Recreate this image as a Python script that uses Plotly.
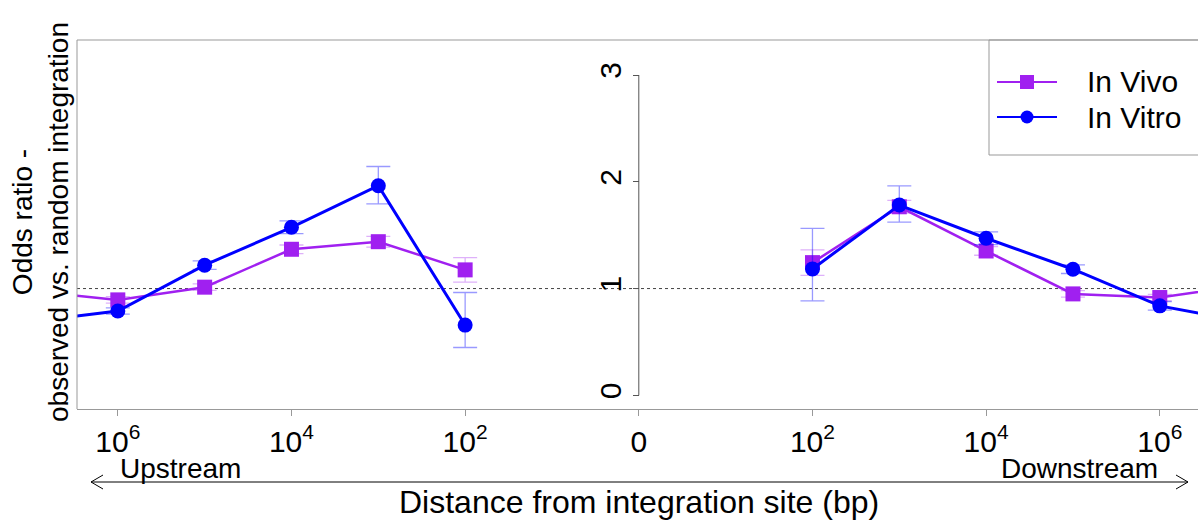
import numpy as np
import plotly.graph_objects as go

# ---------------- data ----------------
upstream_bp = [1e7, 1e6, 1e5, 1e4, 1e3, 1e2]
downstream_bp = [1e2, 1e3, 1e4, 1e5, 1e6, 1e7]

vivo_up = [0.975, 0.894, 1.013, 1.368, 1.439, 1.175]
vivo_up_plus = [0.0, 0.03, 0.03, 0.04, 0.05, 0.115]
vivo_up_minus = [0.0, 0.03, 0.03, 0.04, 0.05, 0.115]

vitro_up = [0.692, 0.790, 1.219, 1.574, 1.963, 0.658]
vitro_up_plus = [0.0, 0.03, 0.04, 0.06, 0.18, 0.305]
vitro_up_minus = [0.0, 0.03, 0.04, 0.06, 0.17, 0.21]

vivo_down = [1.243, 1.766, 1.352, 0.950, 0.916, 1.035]
vivo_down_plus = [0.12, 0.06, 0.04, 0.03, 0.03, 0.0]
vivo_down_minus = [0.12, 0.06, 0.04, 0.03, 0.03, 0.0]

vitro_down = [1.184, 1.782, 1.471, 1.181, 0.838, 0.687]
vitro_down_plus = [0.38, 0.18, 0.06, 0.04, 0.04, 0.0]
vitro_down_minus = [0.30, 0.16, 0.06, 0.04, 0.04, 0.0]

series_names = ["In Vivo", "In Vitro"]
x_tick_positions = [-6, -4, -2, 0, 2, 4, 6]
x_tick_labels = ["10<sup>6</sup>", "10<sup>4</sup>", "10<sup>2</sup>", "0",
                 "10<sup>2</sup>", "10<sup>4</sup>", "10<sup>6</sup>"]
y_ticks = [0, 1, 2, 3]

# ---------------- layout geometry ----------------
W, H = 1198, 520
L, R, T, B = 77, 1198, 40, 409   # plot area in px
XR = [-6.47, 6.44]
YR = [-0.128, 3.328]


def px(xp):
    return (xp - L) / (R - L)


def py(yp):
    return (B - yp) / (B - T)


up_x = -np.log10(upstream_bp)
down_x = np.log10(downstream_bp)

PURPLE = "#A020F0"
BLUE = "#0000FF"
PURPLE_ERR = "rgba(160,32,240,0.35)"
BLUE_ERR = "rgba(0,0,255,0.4)"
FONT = "Liberation Sans, Arial, sans-serif"

fig = go.Figure()


def add_series(x, y, plus, minus, name, color, ecolor, symbol, lw):
    fig.add_trace(go.Scatter(
        x=x, y=y, mode="lines+markers", name=name, legendgroup=name,
        showlegend=False,
        line=dict(color=color, width=lw),
        marker=dict(symbol=symbol, size=15, color=color),
        error_y=dict(type="data", array=plus, arrayminus=minus, symmetric=False,
                     color=ecolor, thickness=1.3, width=12),
    ))


add_series(up_x, vivo_up, vivo_up_plus, vivo_up_minus, series_names[0], PURPLE, PURPLE_ERR, "square", 2.5)
add_series(down_x, vivo_down, vivo_down_plus, vivo_down_minus, series_names[0], PURPLE, PURPLE_ERR, "square", 2.5)
add_series(up_x, vitro_up, vitro_up_plus, vitro_up_minus, series_names[1], BLUE, BLUE_ERR, "circle", 3)
add_series(down_x, vitro_down, vitro_down_plus, vitro_down_minus, series_names[1], BLUE, BLUE_ERR, "circle", 3)

# legend key markers (drawn on an overlay axis in plot-area fractions)
leg_rows = [py(82), py(117)]
for name, color, symbol, size, yy in [(series_names[0], PURPLE, "square", 14, leg_rows[0]),
                                      (series_names[1], BLUE, "circle", 13, leg_rows[1])]:
    fig.add_trace(go.Scatter(
        x=[px(1027)], y=[yy], mode="markers", name=name, showlegend=False,
        marker=dict(symbol=symbol, size=size, color=color),
        xaxis="x2", yaxis="y2", hoverinfo="skip",
    ))

shapes = [
    # dotted reference line at odds ratio 1
    dict(type="line", xref="paper", yref="y", x0=0, x1=1, y0=1, y1=1,
         line=dict(color="#444444", width=1, dash="dot"), layer="below"),
    # central y axis line (0..3)
    dict(type="line", xref="x", yref="y", x0=0, x1=0, y0=0, y1=3,
         line=dict(color="#555555", width=1)),
    # frame: top and left
    dict(type="line", xref="paper", yref="paper", x0=0, x1=1.02, y0=1, y1=1,
         line=dict(color="#999999", width=1)),
    dict(type="line", xref="paper", yref="paper", x0=0, x1=0, y0=0, y1=1,
         line=dict(color="#999999", width=1)),
    # legend box (extends past right edge)
    dict(type="rect", xref="paper", yref="paper", x0=px(989), x1=px(1240),
         y0=py(155), y1=1, line=dict(color="#999999", width=1),
         fillcolor="white", layer="below"),
    # legend key lines
    dict(type="line", xref="paper", yref="paper", x0=px(997), x1=px(1057),
         y0=leg_rows[0], y1=leg_rows[0], line=dict(color=PURPLE, width=2)),
    dict(type="line", xref="paper", yref="paper", x0=px(997), x1=px(1057),
         y0=leg_rows[1], y1=leg_rows[1], line=dict(color=BLUE, width=2)),
    # double headed arrow
    dict(type="line", xref="paper", yref="paper", x0=px(91), x1=px(1188),
         y0=py(482), y1=py(482), line=dict(color="black", width=1)),
    dict(type="path", xref="paper", yref="paper",
         path=f"M{px(103)},{py(475)} L{px(91)},{py(482)} L{px(103)},{py(489)}",
         line=dict(color="black", width=1)),
    dict(type="path", xref="paper", yref="paper",
         path=f"M{px(1176)},{py(475)} L{px(1188)},{py(482)} L{px(1176)},{py(489)}",
         line=dict(color="black", width=1)),
]

annotations = [
    dict(text=series_names[0], xref="paper", x=px(1085), xanchor="left", yref="paper",
         y=leg_rows[0], yanchor="middle", showarrow=False,
         font=dict(size=30, color="black", family=FONT)),
    dict(text=series_names[1], xref="paper", x=px(1085), xanchor="left", yref="paper",
         y=leg_rows[1], yanchor="middle", showarrow=False,
         font=dict(size=30, color="black", family=FONT)),
    dict(text="Upstream", xref="x", x=-6, xanchor="left", yref="paper", y=py(468),
         yanchor="middle", showarrow=False, font=dict(size=28, color="black", family=FONT)),
    dict(text="Downstream", xref="x", x=6, xanchor="right", yref="paper", y=py(468),
         yanchor="middle", showarrow=False, font=dict(size=28, color="black", family=FONT)),
    dict(text="Distance from integration site (bp)", xref="x", x=0, xanchor="center",
         yref="paper", y=py(502), yanchor="middle", showarrow=False,
         font=dict(size=32, color="black", family=FONT)),
    dict(text="Odds ratio -<br>observed vs. random integration", xref="paper", x=px(40),
         xanchor="center", yref="paper", y=py(222), yanchor="middle", textangle=-90,
         showarrow=False, font=dict(size=28, color="black", family=FONT)),
]

fig.update_layout(
    width=W, height=H,
    margin=dict(l=L, r=W - R, t=T, b=H - B, pad=0),
    paper_bgcolor="white", plot_bgcolor="white",
    font=dict(family=FONT, size=30, color="black"),
    showlegend=False,
    xaxis=dict(range=XR, tickvals=x_tick_positions, ticktext=x_tick_labels,
               showgrid=False, zeroline=False, showline=True, linecolor="#999999",
               linewidth=1, ticks="outside", ticklen=6, tickcolor="#999999",
               tickfont=dict(size=30, family=FONT)),
    yaxis=dict(range=YR, tickvals=y_ticks, showgrid=False, zeroline=False,
               showline=False, anchor="free", position=(0 - XR[0]) / (XR[1] - XR[0]),
               ticks="outside", ticklen=6, tickcolor="#555555", tickangle=-90,
               tickfont=dict(size=30, family=FONT)),
    xaxis2=dict(range=[0, 1], overlaying="x", visible=False, fixedrange=True),
    yaxis2=dict(range=[0, 1], overlaying="y", visible=False, fixedrange=True, anchor="x2"),
    shapes=shapes,
    annotations=annotations,
)

fig.write_html("out.html")
